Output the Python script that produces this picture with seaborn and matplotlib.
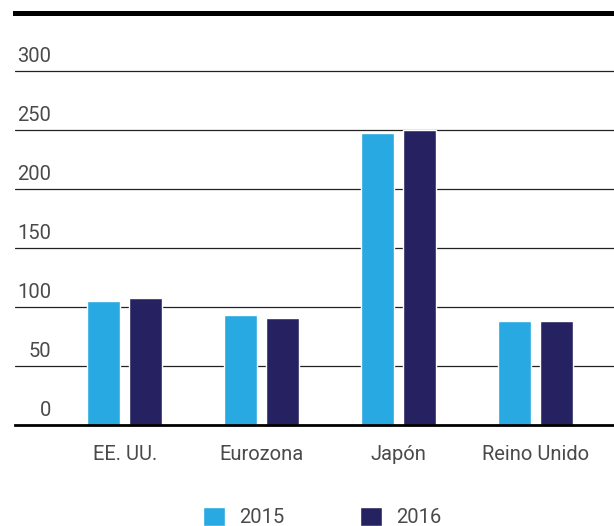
import matplotlib
matplotlib.use("Agg")
import matplotlib.pyplot as plt
import matplotlib.transforms as mtransforms
import seaborn as sns
import pandas as pd

categories = ["EE. UU.", "Eurozona", "Japón", "Reino Unido"]
values_2015 = [105, 93, 247.5, 88.5]
values_2016 = [107.5, 90.5, 250, 88.5]
series_names = ["2015", "2016"]
y_ticks = [0, 50, 100, 150, 200, 250, 300]

colors = ["#29A9E1", "#262261"]
text_color = "#4a4a4a"
font = "Roboto"
fs = 14.5

df = pd.DataFrame({
    "region": categories * 2,
    "year": [series_names[0]] * len(categories) + [series_names[1]] * len(categories),
    "value": values_2015 + values_2016,
})

sns.set_theme(style="white")
plt.rcParams["font.family"] = [font, "DejaVu Sans"]

W, H, DPI = 614, 526, 100
fig = plt.figure(figsize=(W / DPI, H / DPI), dpi=DPI)
ax = fig.add_axes([15 / W, (H - 425) / H, 1 - 15 / W, (425 - 12.5) / H])

sns.barplot(data=df, x="region", y="value", hue="year", palette=colors,
            width=0.613, gap=0.22, saturation=1, ax=ax, legend=True)

ax.set_xlim(-0.80, 3.57)
ax.set_ylim(0, 350)
ax.set_xlabel("")
ax.set_ylabel("")

ax.set_yticks(y_ticks)
ax.set_yticklabels([str(v) for v in y_ticks])
for y in y_ticks[1:]:
    ax.axhline(y, color="#222222", lw=0.9, zorder=0.5)

ax.tick_params(axis="y", length=0, pad=-26, labelsize=fs, labelcolor=text_color)
ax.tick_params(axis="x", length=0, pad=14.5, labelsize=fs, labelcolor=text_color)
offset = mtransforms.ScaledTranslation(0, 0.095, fig.dpi_scale_trans)
for lab in ax.get_yticklabels():
    lab.set_transform(lab.get_transform() + offset)
    lab.set_verticalalignment("baseline")

for s in ["left", "right"]:
    ax.spines[s].set_visible(False)
ax.spines["top"].set_color("black")
ax.spines["top"].set_linewidth(3.6)
ax.spines["bottom"].set_color("black")
ax.spines["bottom"].set_linewidth(2.0)
ax.spines["bottom"].set_zorder(5)

handles, labels = ax.get_legend_handles_labels()
ax.get_legend().remove()
fig.legend(handles, labels, loc="center", bbox_to_anchor=(322 / W, 1 - 517 / H),
           ncol=2, frameon=False, fontsize=fs, labelcolor=text_color,
           handlelength=1.1, handleheight=1.1, handletextpad=0.7,
           columnspacing=3.75, borderpad=0)

fig.savefig("out.png", dpi=DPI)
